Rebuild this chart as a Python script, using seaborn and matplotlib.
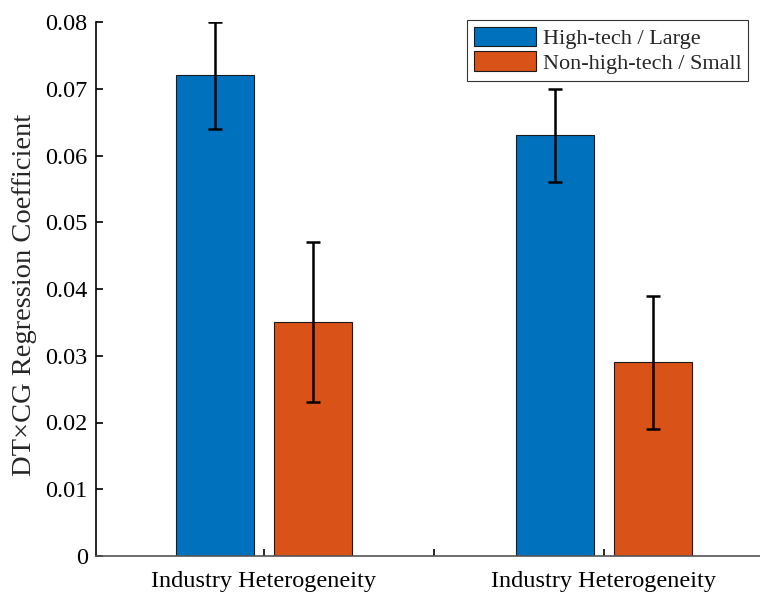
import pandas as pd
import matplotlib
matplotlib.use("Agg")
import matplotlib.pyplot as plt
import seaborn as sns

groups = ["g1", "g2"]
group_labels = ["Industry Heterogeneity", "Industry Heterogeneity"]
series = ["High-tech / Large", "Non-high-tech / Small"]
coef_high = [0.072, 0.063]
coef_low = [0.035, 0.029]
err_high = [0.008, 0.007]
err_low = [0.012, 0.010]

df = pd.DataFrame({
    "group": groups * 2,
    "series": [series[0]] * 2 + [series[1]] * 2,
    "coef": coef_high + coef_low,
    "err": err_high + err_low,
})

sns.set_style("white")
plt.rcParams['font.family'] = ['Liberation Serif', 'DejaVu Serif']
plt.rcParams['font.size'] = 17.5

fig = plt.figure(figsize=(7.6, 5.92), dpi=100)
ax = fig.add_axes([96 / 760, 36 / 592, 680 / 760, 534 / 592])

sns.barplot(data=df, x="group", y="coef", hue="series", order=groups,
            hue_order=series, palette=["#0072BD", "#D95319"], saturation=1,
            width=0.576, gap=0.21, errorbar=None, edgecolor="#1a1a1a",
            linewidth=0.8, ax=ax)

# error bars at bar centres
bars = [p for p in ax.patches if p.get_height() > 0]
for p in bars:
    cx = p.get_x() + p.get_width() / 2
    h = p.get_height()
    row = df[(df["coef"] - h).abs() < 1e-9].iloc[0]
    ax.errorbar(cx, h, yerr=row["err"], fmt="none", ecolor="black",
                elinewidth=1.8, capsize=4.8, capthick=1.8, zorder=5)

ax.set_xlim(-0.494, 1.506)
ax.set_ylim(0, 0.08)
ax.set_xticks([0, 0.5, 1])
ax.set_xticklabels([group_labels[0], "", group_labels[1]])
ax.set_yticks([i / 100 for i in range(9)])
ax.set_yticklabels(["0"] + [f"{i / 100:.2f}" for i in range(1, 9)])
ax.set_xlabel("")
ax.set_ylabel("DT×CG Regression Coefficient", fontsize=20.5)
ax.yaxis.set_label_coords(-0.087, 0.489)
ax.tick_params(axis="both", direction="in", length=5, width=1.2,
               colors="black", labelsize=17.5, left=True, bottom=True)
ax.tick_params(axis="x", pad=11)
ax.tick_params(axis="y", pad=6)

for s in ["top", "right"]:
    ax.spines[s].set_visible(False)
ax.spines["left"].set_color("black")
ax.spines["left"].set_linewidth(1.2)
ax.spines["bottom"].set_color("#555555")
ax.spines["bottom"].set_linewidth(1.2)

leg = ax.legend(loc="upper right", fontsize=16, frameon=True,
                fancybox=False, edgecolor="black", handlelength=2.8,
                handleheight=1.0, borderpad=0.3, labelspacing=0.1,
                handletextpad=0.3, borderaxespad=0)
leg.get_frame().set_linewidth(0.8)
leg.set_bbox_to_anchor(((748 - 96) / 680, 1.004), transform=ax.transAxes)

fig.savefig("out.png", dpi=100)
